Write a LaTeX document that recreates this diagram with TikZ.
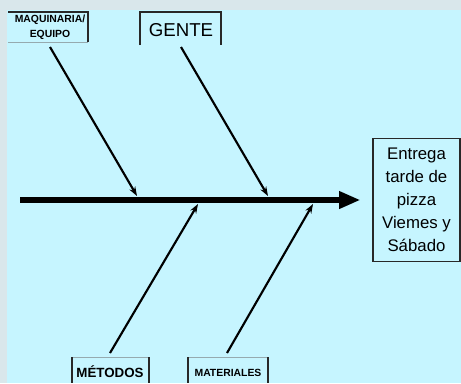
\documentclass[tikz,border=0pt]{standalone}
\usepackage{fontspec}
\setmainfont{Liberation Sans}
\usetikzlibrary{arrows.meta}

\definecolor{skyfill}{RGB}{198,245,255}
\definecolor{stripgray}{RGB}{217,231,235}
\definecolor{framegray}{RGB}{40,40,40}
\definecolor{lightedge}{RGB}{150,170,175}

\tikzset{
  bone/.style={line width=1.6pt, -{Stealth[length=7pt,width=5pt]}},
  spine/.style={line width=3.8pt, -{Triangle[length=16pt,width=12.5pt]}},
  frame/.style={line width=1pt, draw=framegray},
  cause/.style={inner sep=0pt, align=center}
}

\begin{document}
\begin{tikzpicture}[x=0.75pt, y=-0.75pt]

  % background
  \fill[stripgray] (0,0) rectangle (461,383);
  \fill[skyfill] (7,10) rectangle (461,383);
  \useasboundingbox (0,0) rectangle (461,383);

  % cause boxes
  \node[cause, font=\fontsize{7.8}{11.5}\selectfont\bfseries] (maq) at (50,27) {MAQUINARIA/\\EQUIPO};
  \draw[frame] (8,12) -- (88,12) -- (88,42);
  \draw[lightedge, thin] (8,42) -- (88,42);

  \node[cause, font=\fontsize{14}{16}\selectfont] (gente) at (181,30) {GENTE};
  \draw[frame] (140,45) -- (140,12) -- (221,12) -- (221,45);

  \node[cause, font=\fontsize{10}{12}\selectfont\bfseries] (metodos) at (110,372) {MÉTODOS};
  \draw[lightedge, thin] (72,357) -- (149,357);
  \draw[frame] (72,357) -- (72,383);
  \draw[frame] (149,357) -- (149,383);

  \node[cause, font=\fontsize{7.8}{10}\selectfont\bfseries] (materiales) at (228,373) {MATERIALES};
  \draw[lightedge, thin] (188,357) -- (268,357);
  \draw[frame] (188,357) -- (188,383);
  \draw[frame] (268,357) -- (268,383);

  % effect
  \node[draw=framegray, line width=1pt, minimum width=87*0.75pt, minimum height=123*0.75pt,
        inner sep=0pt, align=center, font=\fontsize{12.6}{17.3}\selectfont] (efecto) at (416.5,200)
        {Entrega\\tarde de\\pizza\\Viemes y\\Sábado};

  % spine and bones
  \coordinate (cola) at (20,200);
  \coordinate (ptoMaq) at (137,196);
  \coordinate (ptoGente) at (268,196);
  \coordinate (ptoMet) at (198,204);
  \coordinate (ptoMat) at (313,204);
  \coordinate (iniMaq) at (50,47);
  \coordinate (iniGente) at (181,47);
  \coordinate (iniMet) at (110,353);
  \coordinate (iniMat) at (227,353);

  \draw[spine, shorten >=12*0.75pt] (cola) -- (efecto.west);
  \draw[bone] (iniMaq) -- (ptoMaq);
  \draw[bone] (iniGente) -- (ptoGente);
  \draw[bone] (iniMet) -- (ptoMet);
  \draw[bone] (iniMat) -- (ptoMat);

\end{tikzpicture}
\end{document}
